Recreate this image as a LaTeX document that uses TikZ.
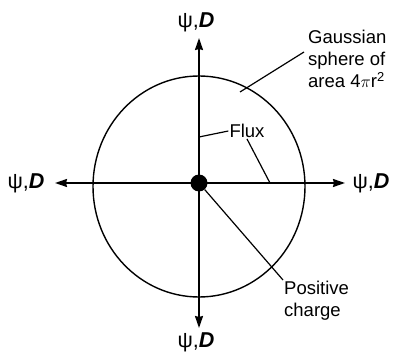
\documentclass[tikz,border=0pt]{standalone}
\usepackage{fontspec}
\setmainfont{Liberation Sans}
\usetikzlibrary{arrows.meta,positioning}

\begin{document}
\begin{tikzpicture}[x=1pt,y=-1pt,>={Stealth[length=12pt,width=8pt,inset=1pt]},
    axis/.style={line width=1.7pt,->},
    lead/.style={line width=1.2pt},
    fluxlbl/.style={font=\fontsize{21.5}{22}\selectfont,inner sep=0pt},
    note/.style={font=\fontsize{18.5}{22}\selectfont,inner sep=1pt,align=left}]
    \useasboundingbox (0,0) rectangle (396,355);
    % charge and Gaussian sphere
    \node[circle,fill=black,minimum size=17pt,inner sep=0pt] (q) at (199,183) {};
    \draw[line width=1.4pt] (199,186.5) ellipse [x radius=106,y radius=110.5];
    % arrow tips and labels
    \coordinate (N) at (199,38);
    \coordinate (S) at (199,328);
    \coordinate (W) at (55,183);
    \coordinate (E) at (345,183);
    \node[fluxlbl] (psiN) at (196,22) {ψ,\textbf{\textit{D}}};
    \node[fluxlbl] (psiS) at (196,342) {ψ,\textbf{\textit{D}}};
    \node[fluxlbl] (psiW) at (26,183) {ψ,\textbf{\textit{D}}};
    \node[fluxlbl] (psiE) at (371,183) {ψ,\textbf{\textit{D}}};
    \draw[axis] (q.center) -- (N);
    \draw[axis] (q.center) -- (S);
    \draw[axis] (q.center) -- (W);
    \draw[axis] (q.center) -- (E);
    % annotations
    \node[note,anchor=north west] (gauss) at (307,29) {Gaussian\\sphere of\\area 4$\pi$r\textsuperscript{2}};
    \coordinate (g1) at (240,92);
    \draw[lead] (g1) -- ([shift={(-3,-7)}]gauss.west);
    \node[note] (flux) at (247,131) {Flux};
    \coordinate (fv) at (199,137);
    \coordinate (fh) at (270,183);
    \draw[lead] (fv) -- (flux.west);
    \draw[lead] (flux.south) -- (fh);
    \node[note,anchor=north west] (pos) at (283,280) {Positive\\charge};
    \draw[lead] (q) -- (pos.north west);
\end{tikzpicture}
\end{document}
